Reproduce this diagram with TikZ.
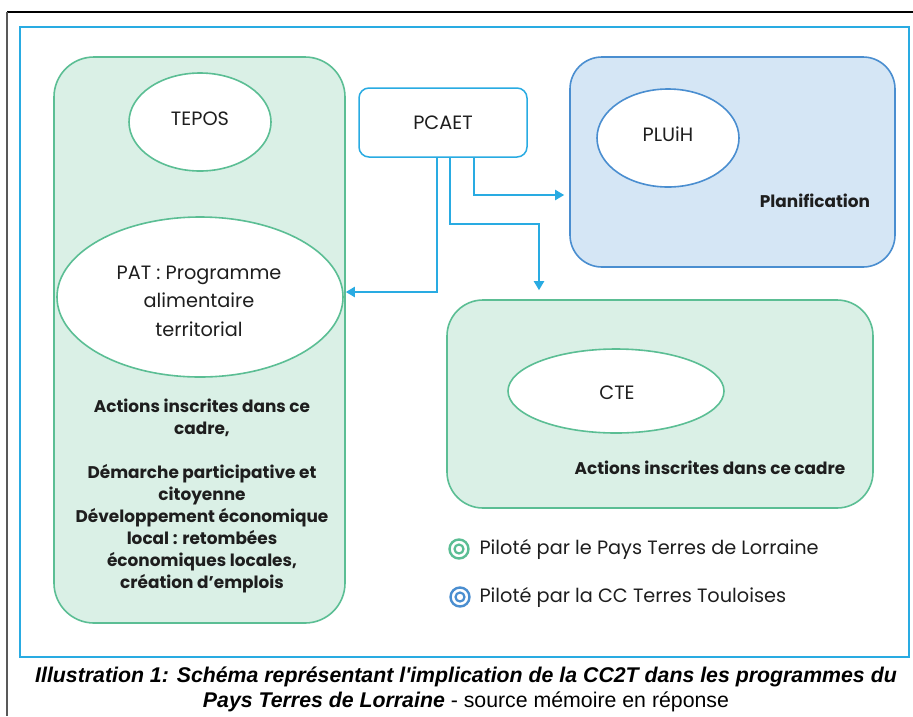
\documentclass[tikz,border=0pt]{standalone}
\usepackage{fontspec}
\setmainfont{Poppins}
\newfontfamily\capfont{Liberation Sans}
\usetikzlibrary{arrows.meta,shapes.geometric,calc}
\definecolor{frameblue}{HTML}{29ABE2}
\definecolor{greenline}{HTML}{5BBE94}
\definecolor{greenfill}{HTML}{DAF0E6}
\definecolor{blueline}{HTML}{4A8ED0}
\definecolor{bluefill}{HTML}{D5E6F5}
\definecolor{textdark}{HTML}{1E1E1E}
\begin{document}
\begin{tikzpicture}[x=1pt,y=-1pt,
  greenbox/.style={draw=greenline,fill=greenfill,line width=1.6pt,rectangle,inner sep=0pt},
  bluebox/.style={draw=blueline,fill=bluefill,line width=1.6pt,rectangle,inner sep=0pt},
  greenoval/.style={draw=greenline,fill=white,line width=1.6pt,ellipse,inner sep=0pt},
  blueoval/.style={draw=blueline,fill=white,line width=1.6pt,ellipse,inner sep=0pt},
  label/.style={text=textdark,font=\fontsize{19.3}{24}\selectfont},
  boldlabel/.style={text=textdark,font=\fontsize{16.9}{22}\selectfont\bfseries,align=center},
  arr/.style={draw=frameblue,line width=2pt,-{Triangle[length=9pt,width=10pt]}},
  legicon/.style={circle,line width=2.4pt,minimum size=19pt,inner sep=0pt},
  legdot/.style={circle,line width=2.2pt,minimum size=9pt,inner sep=0pt}]
\useasboundingbox (0,0) rectangle (913,716);
\fill[white] (0,0) rectangle (913,716);
% page frame
\draw[black,line width=1.2pt] (7,12) -- (913,12);
\draw[gray!70!black,line width=2pt] (7,12) -- (7,716);
% diagram frame
\draw[frameblue,line width=1.5pt] (20,27) rectangle (909,657);

% containers
\node[greenbox,minimum width=291pt,minimum height=566pt,rounded corners=40pt] (left) at (199.5,340) {};
\node[bluebox,minimum width=325pt,minimum height=210pt,rounded corners=32pt] (plan) at (732.5,162) {};
\node[greenbox,minimum width=426pt,minimum height=208pt,rounded corners=36pt] (ctebox) at (660,404) {};
\node[draw=frameblue,fill=white,line width=1.5pt,rectangle,rounded corners=10pt,
      minimum width=168pt,minimum height=69pt,inner sep=0pt] (pcaet) at (443,122.5) {};
\node[label] at (pcaet) {PCAET};

% ovals
\node[greenoval,minimum width=142pt,minimum height=98pt] (tepos) at (200,122) {};
\node[label] at (200,119) {TEPOS};
\node[greenoval,minimum width=286pt,minimum height=160pt] (pat) at (200,297) {};
\node[label,align=center,font=\fontsize{19.3}{28.5}\selectfont] at (199,301) {PAT : Programme\\alimentaire\\territorial};
\node[blueoval,minimum width=142pt,minimum height=98pt] (pluih) at (668,138) {};
\node[label] at (668,134) {PLUiH};
\node[greenoval,minimum width=216pt,minimum height=84pt] (cte) at (616,391) {};
\node[label] at (617,393) {CTE};

% captions inside containers
\node[boldlabel] (lefttext) at (202,496) {Actions inscrites dans ce\\cadre,\\[22pt]D\'emarche participative et\\citoyenne\\D\'eveloppement \'economique\\local : retomb\'ees\\\'economiques locales,\\cr\'eation d'emplois};
\node[boldlabel] (plantext) at (815,201) {Planification};
\node[boldlabel] (ctetext) at (710,468) {Actions inscrites dans ce cadre};

% connectors from PCAET
\draw[arr] ($(pcaet.south)+(-6,0)$) |- ($(left.east)+(0,-48)$);
\draw[arr] ($(pcaet.south)+(7,0)$) -- ++(0,66) -| ($(ctebox.north)+(-121,-9)$);
\draw[arr] ($(pcaet.south)+(31,0)$) |- ($(plan.west)+(-5,33)$);

% legend
\node[legicon,draw=greenline] (lg1) at (459,549) {};
\node[legdot,draw=greenline] at (lg1) {};
\node[label,anchor=west] at (476,549) {Pilot\'e par le Pays Terres de Lorraine};
\node[legicon,draw=blueline] (lg2) at (460,597) {};
\node[legdot,draw=blueline] at (lg2) {};
\node[label,anchor=west] at (476,597) {Pilot\'e par la CC Terres Touloises};

% figure caption
\node[font=\capfont\fontsize{21.3}{25}\selectfont,align=center] at (466,689)
  {\bfseries\itshape Illustration 1: Sch\'ema repr\'esentant l'implication de la CC2T dans les programmes du\\
   {\bfseries\itshape Pays Terres de Lorraine} - source m\'emoire en r\'eponse};
\end{tikzpicture}
\end{document}
